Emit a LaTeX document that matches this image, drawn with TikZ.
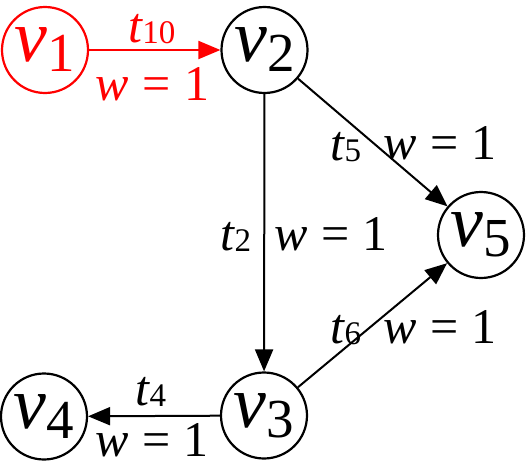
\documentclass[tikz,border=0pt]{standalone}
\usepackage{fontspec}
\setmainfont{Liberation Serif}
\newfontfamily\tms{Liberation Serif}
\usetikzlibrary{arrows.meta}
\newcommand{\vlab}[1]{{\tms\fontsize{74}{74}\selectfont\itshape v}\raisebox{-10pt}{\tms\fontsize{55}{55}\selectfont #1}}
\newcommand{\tlab}[1]{{\tms\itshape t}\raisebox{-1pt}{\tms\fontsize{33}{33}\selectfont #1}}
\newcommand{\wone}{{\tms\itshape w}\hspace{0.27em}{\tms =}\hspace{0.27em}{\tms 1}}
\tikzset{
  vert/.style={circle, draw, line width=2.2pt, minimum size=86pt, inner sep=0pt},
  lab/.style={font=\tms\fontsize{50}{50}\selectfont, inner sep=0pt, anchor=base},
  edge/.style={line width=2pt, -{Triangle[length=22pt,width=18pt]}}
}
\begin{document}
\begin{tikzpicture}[x=1pt,y=-1pt]
\useasboundingbox (0,0) rectangle (528,466);
\node[vert, red] (v1) at (45,50) {\vlab{1}};
\node[vert] (v2) at (264.5,50) {\vlab{2}};
\node[vert] (v5) at (481,235) {\vlab{5}};
\node[vert] (v3) at (264,415.5) {\vlab{3}};
\node[vert] (v4) at (44,416.5) {\vlab{4}};
\draw[edge, red] (v1) -- (v2);
\draw[edge] (v2) -- (v3);
\draw[edge] (v2) -- (v5);
\draw[edge] (v3) -- (v5);
\draw[edge] (v3) -- (v4);
\node[lab, red] (l10) at (152,42) {\tlab{10}};
\node[lab, red] (w10) at (152.5,100) {\wone};
\node[lab] (l5) at (346,160) {\tlab{5}};
\node[lab] (w5) at (440,159) {\wone};
\node[lab] (l2) at (236,250) {\tlab{2}};
\node[lab] (w2) at (331,250) {\wone};
\node[lab] (l6) at (346,343) {\tlab{6}};
\node[lab] (w6) at (440,343) {\wone};
\node[lab] (l4) at (151,405) {\tlab{4}};
\node[lab] (w4) at (152,456) {\wone};
\end{tikzpicture}
\end{document}
